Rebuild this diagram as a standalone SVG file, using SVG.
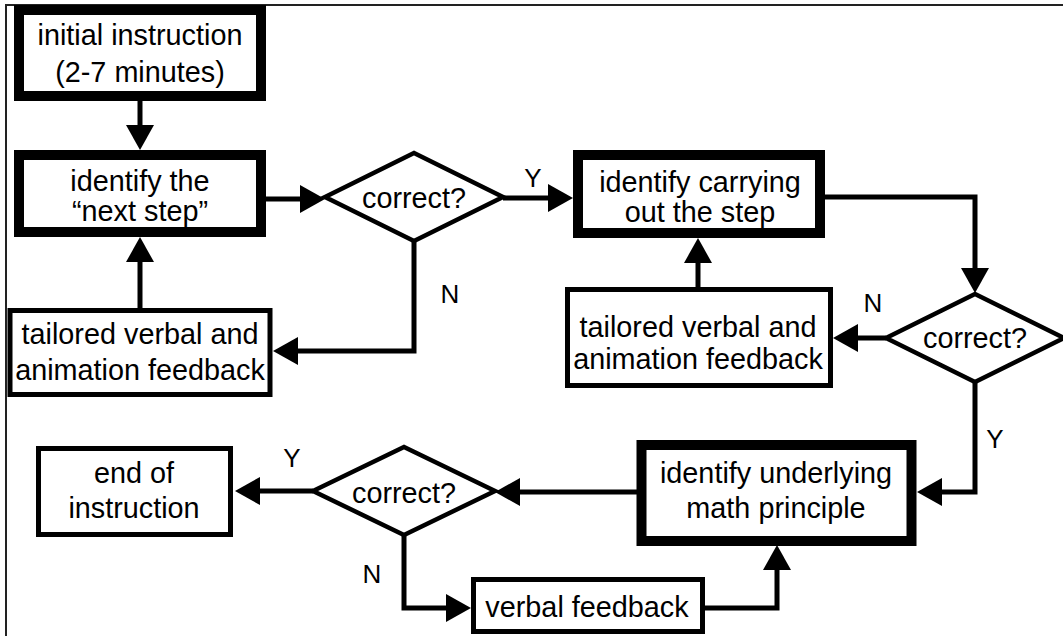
<svg xmlns="http://www.w3.org/2000/svg" width="1063" height="636" viewBox="0 0 1063 636">
<style>
.t{font-family:"Liberation Sans",Arial,sans-serif;font-size:28.8px;fill:#000;text-anchor:middle}
.l{font-family:"Liberation Sans",Arial,sans-serif;font-size:26px;fill:#000;text-anchor:middle}
.thick{fill:#fff;stroke:#000;stroke-width:10}
.thin{fill:#fff;stroke:#000;stroke-width:5}
.dia{fill:#fff;stroke:#000;stroke-width:4.5;stroke-linejoin:miter}
.c{fill:none;stroke:#000;stroke-width:5;marker-end:url(#ah)}
</style>
<defs>
<marker id="ah" markerUnits="userSpaceOnUse" markerWidth="26" markerHeight="28" viewBox="0 0 25 28" refX="13" refY="14" orient="auto">
<path d="M0,0 L25,14 L0,28 z" fill="#000"/>
</marker>
</defs>
<rect x="0" y="0" width="1063" height="636" fill="#fff"/>
<rect x="6" y="5" width="1080" height="650" fill="none" stroke="#222" stroke-width="2"/>
<g id="connectors">
<path class="c" d="M140,101 L140,138"/>
<path class="c" d="M266,199 L313,199"/>
<path class="c" d="M503,198 L561,198"/>
<path class="c" d="M414,241 L414,351 L285,351"/>
<path class="c" d="M140,308 L140,249"/>
<path class="c" d="M825,197 L975,197 L975,281"/>
<path class="c" d="M886,338 L845,338"/>
<path class="c" d="M698,287 L698,250"/>
<path class="c" d="M975,382 L975,492 L929,492"/>
<path class="c" d="M637,492 L507,492"/>
<path class="c" d="M313,491 L247,491"/>
<path class="c" d="M404,535 L404,608 L459,608"/>
<path class="c" d="M705,608 L777,608 L777,557"/>
</g>
<g id="labels">
<text class="l" x="533" y="187">Y</text>
<text class="l" x="450" y="303">N</text>
<text class="l" x="873" y="312">N</text>
<text class="l" x="995" y="448">Y</text>
<text class="l" x="292" y="467">Y</text>
<text class="l" x="372" y="583">N</text>
</g>
<g id="initial">
<rect class="thick" x="19" y="10" width="242" height="86"/>
<text class="t" x="140" y="45">initial instruction</text>
<text class="t" x="140" y="82">(2-7 minutes)</text>
</g>
<g id="nextstep">
<rect class="thick" x="19" y="155" width="242" height="77"/>
<text class="t" x="140" y="191">identify the</text>
<text class="t" x="140" y="221">“next step”</text>
</g>
<g id="decision1">
<polygon class="dia" points="325,197 414,153 503,197 414,241"/>
<text class="t" x="414" y="208">correct?</text>
</g>
<g id="feedback1">
<rect class="thin" x="10" y="310.5" width="260" height="84"/>
<text class="t" x="140" y="344">tailored verbal and</text>
<text class="t" x="140" y="380">animation feedback</text>
</g>
<g id="carrying">
<rect class="thick" x="578" y="155" width="242" height="78"/>
<text class="t" x="700" y="192">identify carrying</text>
<text class="t" x="700" y="222">out the step</text>
</g>
<g id="decision2">
<polygon class="dia" points="886,338 975,294 1064,338 975,382"/>
<text class="t" x="975" y="348">correct?</text>
</g>
<g id="feedback2">
<rect class="thin" x="567.5" y="289.5" width="263" height="96"/>
<text class="t" x="698" y="337">tailored verbal and</text>
<text class="t" x="698" y="369">animation feedback</text>
</g>
<g id="principle">
<rect class="thick" x="641.5" y="445" width="270" height="96"/>
<text class="t" x="776" y="483">identify underlying</text>
<text class="t" x="776" y="518">math principle</text>
</g>
<g id="decision3">
<polygon class="dia" points="313,491 404,447 495,491 404,535"/>
<text class="t" x="404" y="503">correct?</text>
</g>
<g id="end">
<rect class="thin" x="38.5" y="448.5" width="192" height="86"/>
<text class="t" x="134" y="483">end of</text>
<text class="t" x="134" y="518">instruction</text>
</g>
<g id="verbal">
<rect class="thin" x="473.5" y="579.5" width="229" height="52"/>
<text class="t" x="587" y="617">verbal feedback</text>
</g>
</svg>
